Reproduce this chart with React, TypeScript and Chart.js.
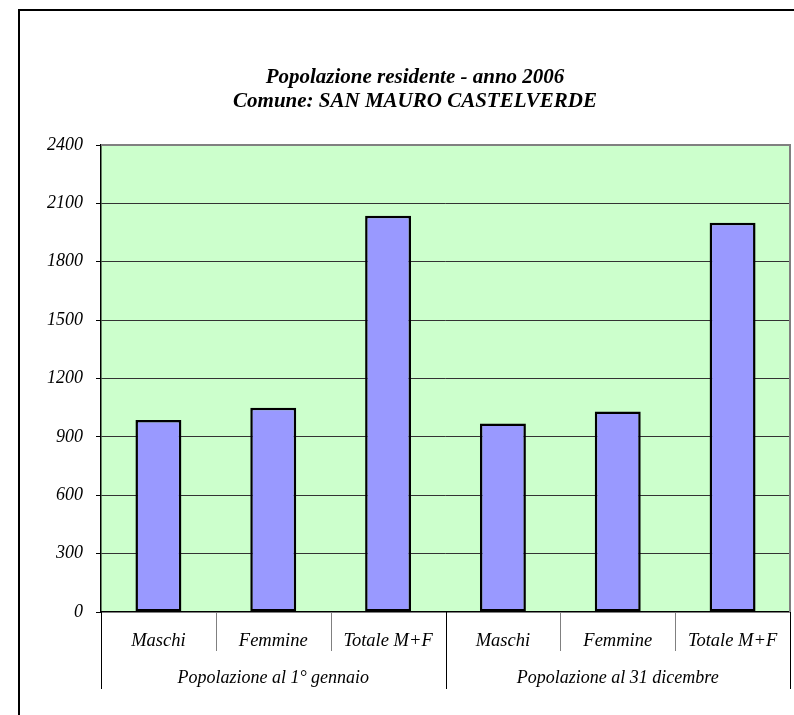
import { useEffect, useRef } from "react";
import { Chart, registerables } from "chart.js";

Chart.register(...registerables);

const categories = ["Maschi", "Femmine", "Totale M+F", "Maschi", "Femmine", "Totale M+F"];
const groups = ["Popolazione al 1° gennaio", "Popolazione al 31 dicembre"];
const groupSizes = [3, 3];
const values = [987, 1050, 2037, 969, 1031, 2000];
const titleLines = ["Popolazione residente - anno 2006", "Comune: SAN MAURO CASTELVERDE"];
const yMin = 0;
const yMax = 2400;
const yStep = 300;

const SERIF = "'Liberation Serif', 'Times New Roman', serif";

const decorPlugin = {
  id: "decor",
  beforeDraw(chart: any) {
    const { ctx, chartArea: a, width, height } = chart;
    ctx.save();
    ctx.fillStyle = "#ffffff";
    ctx.fillRect(0, 0, width, height);
    ctx.strokeStyle = "#000000";
    ctx.lineWidth = 2;
    ctx.strokeRect(19, 10, width + 20, height + 20);
    ctx.fillStyle = "#CCFFCC";
    ctx.fillRect(a.left, a.top, a.right - a.left, a.bottom - a.top);
    ctx.restore();
  },
  afterDraw(chart: any) {
    const { ctx, chartArea: a } = chart;
    const x = chart.scales.x;
    ctx.save();
    ctx.strokeStyle = "#808080";
    ctx.lineWidth = 2;
    ctx.beginPath();
    ctx.moveTo(a.left, a.top);
    ctx.lineTo(a.right, a.top);
    ctx.lineTo(a.right, a.bottom);
    ctx.stroke();

    const step = x.getPixelForValue(1) - x.getPixelForValue(0);
    ctx.fillStyle = "#000";
    ctx.textAlign = "center";
    ctx.textBaseline = "middle";
    ctx.font = "italic 18.5px " + SERIF;
    categories.forEach((c, i) => {
      ctx.fillText(c, x.getPixelForValue(i), a.bottom + 29);
    });
    const boundaries = new Set<number>();
    let acc = 0;
    boundaries.add(0);
    groupSizes.forEach((g) => {
      acc += g;
      boundaries.add(acc);
    });
    for (let i = 0; i <= categories.length; i++) {
      const px = Math.round(x.getPixelForValue(i) - step / 2) + 0.5;
      const isGroup = boundaries.has(i);
      ctx.strokeStyle = isGroup ? "#000" : "#808080";
      ctx.lineWidth = 1;
      ctx.beginPath();
      ctx.moveTo(px, a.bottom);
      ctx.lineTo(px, a.bottom + (isGroup ? 77 : 39));
      ctx.stroke();
    }
    ctx.font = "italic 18px " + SERIF;
    let start = 0;
    groups.forEach((g, gi) => {
      const n = groupSizes[gi];
      const cx = (x.getPixelForValue(start) + x.getPixelForValue(start + n - 1)) / 2;
      ctx.fillText(g, cx, a.bottom + 66);
      start += n;
    });

    ctx.font = "bold italic 21px " + SERIF;
    titleLines.forEach((t, i) => {
      ctx.fillText(t, 415, 78 + i * 24);
    });
    ctx.restore();
  },
};

export default function App() {
  const ref = useRef<HTMLCanvasElement | null>(null);
  useEffect(() => {
    if (!ref.current) return;
    const chart = new Chart(ref.current, {
      type: "bar",
      data: {
        labels: categories,
        datasets: [
          {
            data: values,
            backgroundColor: "#9999FF",
            borderColor: "#000000",
            borderWidth: 2.5,
            borderSkipped: false,
            barPercentage: 0.4,
            categoryPercentage: 1,
          },
        ],
      },
      options: {
        animation: false,
        responsive: false,
        layout: { padding: { left: 0, top: 145, right: 4, bottom: 103 } },
        plugins: {
          legend: { display: false },
          title: { display: false },
          tooltip: { enabled: false },
        },
        scales: {
          x: {
            type: "category",
            offset: true,
            grid: { display: false },
            ticks: { display: false },
            border: { display: true, color: "#000", width: 1.5 },
            afterFit: (s: any) => {
              s.height = 0;
            },
          },
          y: {
            min: yMin,
            max: yMax,
            ticks: {
              stepSize: yStep,
              padding: 13,
              color: "#000",
              font: { family: SERIF, size: 18, style: "italic" },
              callback: (v: any) => String(v),
            },
            grid: {
              color: (c: any) => (c.tick && (c.tick.value === yMax || c.tick.value === yMin) ? "rgba(0,0,0,0)" : "#333333"),
              tickColor: "#000",
              tickLength: 5,
              lineWidth: 1,
            },
            border: { display: true, color: "#000", width: 1.5 },
            afterFit: (s: any) => {
              s.width = 101;
            },
          },
        },
      },
      plugins: [decorPlugin],
    });
    return () => chart.destroy();
  }, []);
  return (
    <div style={{ position: "absolute", left: 0, top: 0, width: 794, height: 715 }}>
      <canvas ref={ref} width={794} height={715} style={{ display: "block" }} />
    </div>
  );
}
